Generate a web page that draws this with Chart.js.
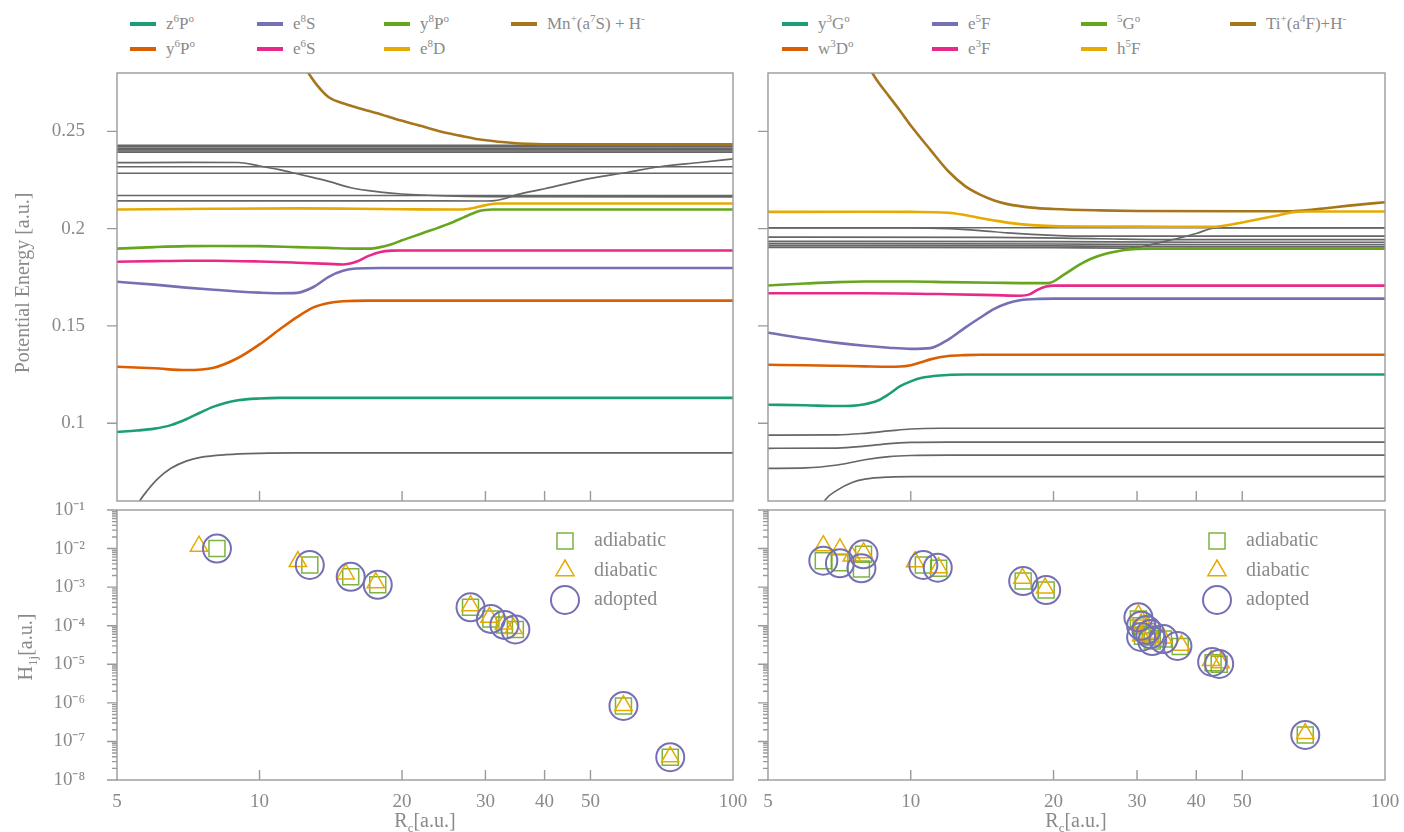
<!DOCTYPE html>
<html>
<head>
<meta charset="utf-8">
<script src="https://cdn.jsdelivr.net/npm/chart.js@4.4.1/dist/chart.umd.min.js"></script>
<style>
  body { margin: 0; background: #fff; width: 1404px; height: 832px; overflow: hidden; position: relative;
         font-family: "Liberation Serif", serif; color: #8a8a8a; }
  .box { position: absolute; }
  .leg { position: absolute; font-size: 17px; white-space: nowrap; line-height: 1; }
  .leg i { display: inline-block; width: 26px; height: 4px; vertical-align: middle; margin-right: 10px; position: relative; top: -1px; }
  .leg sup { font-size: 11px; }
  .title { position: absolute; font-size: 20px; white-space: nowrap; transform: translate(-50%, -50%); }
  .rot { transform: translate(-50%, -50%) rotate(-90deg); }
  .title sub { font-size: 13px; }
</style>
</head>
<body>
<div class="box" style="left:0;top:63px;width:752px;height:446px"><canvas id="mnPot"></canvas></div>
<div class="box" style="left:752px;top:63px;width:652px;height:446px"><canvas id="tiPot"></canvas></div>
<div class="box" style="left:0;top:500px;width:752px;height:332px"><canvas id="mnH"></canvas></div>
<div class="box" style="left:752px;top:500px;width:652px;height:332px"><canvas id="tiH"></canvas></div>
<div id="legends"></div>
<div class="title rot" style="left:22px;top:283px">Potential Energy [a.u.]</div>
<div class="title rot" style="left:27px;top:647px">H<sub>1j</sub>[a.u.]</div>
<div class="title" style="left:425px;top:822px">R<sub>c</sub>[a.u.]</div>
<div class="title" style="left:1076px;top:822px">R<sub>c</sub>[a.u.]</div>
<script>
// ---- colours
const TEAL = "#1b9e77", ORANGE = "#d95f02", PURPLE = "#7570b3", PINK = "#e7298a",
      GREEN = "#66a61e", YELLOW = "#e6ab02", BROWN = "#a6761d", GREY = "#666666";

// ---- Mn panel potential curves [R, E]
const mnZ6P = [[5,0.0955],[5.5,0.0962],[6,0.0972],[6.5,0.099],[7,0.102],[7.5,0.1055],[8,0.1085],[8.5,0.1105],[9,0.1118],[10,0.1127],[11,0.113],[100,0.113]];
const mnY6P = [[5,0.129],[6,0.1282],[7,0.1273],[8,0.1285],[9,0.1335],[10,0.1405],[11,0.148],[12,0.1545],[13,0.1595],[14,0.1618],[15,0.1627],[17,0.163],[100,0.163]];
const mnE8S = [[5,0.1727],[6,0.1712],[7,0.1697],[8,0.1686],[9,0.1677],[10,0.1671],[11,0.1668],[12,0.167],[13,0.17],[14,0.1752],[15,0.1783],[16,0.1795],[18,0.1798],[100,0.1798]];
const mnE6S = [[5,0.183],[6,0.1833],[7,0.1835],[8,0.1835],[10,0.1831],[12,0.1825],[14,0.1819],[15,0.1816],[16,0.183],[17,0.186],[18,0.188],[19,0.1887],[20,0.1888],[100,0.1888]];
const mnY8P = [[5,0.1897],[6,0.1905],[7,0.191],[8,0.1911],[10,0.191],[12,0.1905],[14,0.1901],[16,0.1897],[17,0.1897],[18,0.1905],[19,0.192],[20,0.194],[22,0.1975],[25,0.2023],[27,0.2058],[28,0.2075],[29,0.209],[30,0.2096],[31,0.2098],[100,0.2098]];
const mnE8D = [[5,0.2098],[8,0.2102],[12,0.2104],[16,0.2102],[20,0.21],[26,0.2098],[27.5,0.2101],[29,0.2112],[30.5,0.2124],[32,0.2129],[100,0.2129]];
const mnIon = [[12.6,0.281],[13.2,0.274],[14,0.2675],[15,0.2645],[16.3,0.2618],[18,0.2588],[19.8,0.2557],[22,0.2527],[24,0.25],[26.5,0.2478],[29,0.2459],[32,0.2447],[35.5,0.2438],[42,0.2434],[100,0.2433]];
const mnGreyLevels = [0.2428, 0.2421, 0.2413, 0.2406, 0.2399, 0.2392, 0.2318, 0.2285, 0.2170];
const mnGreyA = [[5,0.2339],[7,0.2341],[9,0.234],[10,0.2322],[11,0.2303],[12,0.2282],[13,0.2262],[14,0.2243],[15.6,0.221],[18,0.2188],[20,0.2178],[25,0.2168],[30,0.2165],[100,0.2163]];
const mnGreyE = [[5,0.2143],[20,0.2143],[29,0.2142],[31,0.2143],[33,0.2155],[35,0.2175],[40,0.2205],[50,0.2258],[60,0.229],[70,0.2318],[85,0.234],[100,0.2359]];
const mnGreyLow = [[5.45,0.055],[5.6,0.0605],[5.8,0.0655],[6.1,0.0715],[6.5,0.0768],[7,0.0805],[7.5,0.0824],[8.5,0.0838],[10,0.0845],[12,0.0847],[100,0.0847]];

// ---- Ti panel potential curves [R, E]
const tiY3G = [[5,0.1095],[6,0.1092],[7,0.1088],[7.5,0.1089],[8,0.1097],[8.5,0.1115],[9,0.115],[9.5,0.119],[10,0.1215],[10.5,0.1232],[11.5,0.1245],[13,0.125],[100,0.125]];
const tiW3D = [[5,0.13],[6,0.1298],[7,0.1295],[8,0.1292],[9,0.129],[9.5,0.1291],[10,0.1298],[10.5,0.1313],[11,0.1328],[12,0.1345],[13,0.135],[14,0.1352],[100,0.1352]];
const tiE5F = [[5,0.1465],[6,0.1435],[7,0.1413],[8,0.1398],[9,0.1388],[10,0.1382],[11,0.1386],[12,0.143],[13,0.149],[14,0.1542],[15,0.1588],[16,0.1617],[17,0.1632],[18.7,0.1639],[20,0.164],[100,0.164]];
const tiE3F = [[5,0.1668],[8,0.1668],[12,0.1663],[15,0.1658],[17,0.1655],[17.8,0.1662],[18.5,0.1685],[19.3,0.1702],[20,0.1707],[100,0.1707]];
const tiG5 = [[5,0.1708],[6,0.1718],[7,0.1725],[8,0.1728],[10,0.1728],[12,0.1725],[15,0.1722],[18,0.172],[19.5,0.172],[21,0.1762],[22.6,0.1812],[24,0.1845],[26,0.1873],[28,0.1889],[30,0.1896],[32,0.1897],[100,0.1897]];
const tiH5F = [[5,0.2086],[8,0.2087],[10,0.2086],[12,0.2082],[13,0.207],[14,0.2055],[15,0.2042],[16,0.2031],[18,0.2018],[20,0.2013],[25,0.2011],[35,0.201],[43,0.2009],[45,0.2012],[50,0.2032],[55,0.2052],[60,0.207],[64,0.2085],[68,0.2088],[100,0.2088]];
const tiIon = [[8.2,0.282],[8.5,0.276],[9,0.268],[9.5,0.2605],[10,0.253],[11,0.2405],[12,0.2295],[13,0.222],[14,0.2175],[15,0.2145],[16,0.2126],[18,0.2108],[20,0.2101],[25,0.2094],[30,0.2091],[50,0.2089],[63,0.2089],[68,0.2094],[75,0.2105],[83,0.2117],[100,0.2136]];
const tiGreyLevels = [0.2004];
const tiGreyR2 = [[5,0.2004],[10,0.2004],[12,0.2],[14,0.199],[16,0.1978],[18,0.197],[20,0.1965],[23,0.1961],[100,0.1961]];
const tiGreyR3 = [[5,0.1956],[15,0.1955],[25,0.1948],[35,0.1944],[100,0.1944]];
const tiGreyR4 = [[5,0.1935],[20,0.1933],[40,0.193],[100,0.193]];
const tiGreyR5 = [[5,0.1923],[20,0.1921],[40,0.1918],[100,0.1918]];
const tiGreyR6 = [[5,0.1913],[20,0.1911],[40,0.1906],[100,0.1906]];
const tiGreyR7 = [[5,0.1904],[20,0.1902],[28,0.19],[30.5,0.1905],[33,0.1925],[37,0.1953],[40,0.1975],[44,0.2004],[50,0.2004],[100,0.2004]];
const tiGreyG1 = [[5,0.0939],[7,0.094],[8,0.0948],[9,0.096],[10,0.097],[11.5,0.0974],[100,0.0974]];
const tiGreyG2 = [[5,0.0871],[7,0.0872],[8,0.0882],[9,0.0895],[10,0.0901],[12,0.0903],[100,0.0903]];
const tiGreyG3 = [[5,0.0768],[6,0.077],[7,0.0785],[8,0.0812],[9,0.0828],[10,0.0834],[12,0.0836],[100,0.0836]];
const tiGreyG4 = [[6.5,0.057],[6.6,0.0605],[7,0.0656],[7.5,0.0694],[8,0.0712],[9,0.0723],[10,0.0725],[100,0.0725]];

// ---- coupling points H1j vs Rc
const mnAdiabR = [8.13, 12.77, 15.58, 17.77, 27.9, 30.8, 32.9, 34.7, 58.7, 73.7];
const mnAdiabH = [1.0e-2, 3.75e-3, 1.85e-3, 1.15e-3, 3.0e-4, 1.5e-4, 1.05e-4, 8.0e-5, 8.3e-7, 3.9e-8];
const mnDiabR  = [7.45, 12.05, 15.2, 17.6, 27.9, 30.6, 32.8, 34.4, 58.7, 73.7];
const mnDiabH  = [1.15e-2, 4.6e-3, 2.2e-3, 1.3e-3, 3.3e-4, 1.65e-4, 1.1e-4, 8.5e-5, 8.5e-7, 4.0e-8];
const mnAdoptR = [8.13, 12.77, 15.58, 17.77, 27.9, 30.8, 32.9, 34.7, 58.7, 73.7];
const mnAdoptH = [1.0e-2, 3.75e-3, 1.85e-3, 1.15e-3, 3.0e-4, 1.5e-4, 1.05e-4, 8.0e-5, 8.3e-7, 3.9e-8];

const tiAdoptR = [6.54, 7.09, 7.95, 7.87, 10.63, 11.4, 17.26, 19.3, 30.2, 30.6, 31.4, 32.0, 30.6, 32.3, 34.1, 36.5, 43.2, 44.7, 67.9];
const tiAdoptH = [4.85e-3, 4.15e-3, 7.1e-3, 3.08e-3, 3.75e-3, 3.19e-3, 1.44e-3, 8.4e-4, 1.65e-4, 1.0e-4, 7.8e-5, 6.1e-5, 5.1e-5, 4.0e-5, 4.5e-5, 2.98e-5, 1.15e-5, 1.02e-5, 1.47e-7];
const tiAdiabR = [6.54, 7.09, 7.95, 7.87, 10.63, 11.45, 17.26, 19.3, 30.2, 30.6, 31.6, 32.0, 30.8, 32.3, 34.1, 37.0, 43.4, 44.7, 67.9];
const tiAdiabH = [4.85e-3, 4.3e-3, 7.1e-3, 2.95e-3, 3.75e-3, 3.08e-3, 1.44e-3, 8.4e-4, 1.5e-4, 1.0e-4, 7.0e-5, 6.1e-5, 5.3e-5, 4.0e-5, 4.5e-5, 2.9e-5, 1.1e-5, 1.0e-5, 1.47e-7];
const tiDiabR  = [6.54, 7.09, 7.51, 7.95, 10.21, 11.45, 17.2, 19.2, 30.2, 30.6, 31.4, 32.0, 30.6, 32.3, 34.1, 37.2, 43.0, 45.0, 67.9];
const tiDiabH  = [1.19e-2, 9.75e-3, 6.4e-3, 7.8e-3, 4.57e-3, 3.2e-3, 1.7e-3, 9.5e-4, 1.9e-4, 1.1e-4, 8.5e-5, 6.5e-5, 5.5e-5, 4.2e-5, 4.8e-5, 3.1e-5, 1.25e-5, 1.1e-5, 1.6e-7];

// ---- axis ticks
const xTickVals = [5, 10, 20, 30, 40, 50, 100];
const xInnerTicks = [10, 20, 30, 40, 50];
const eTickVals = [0.1, 0.15, 0.2, 0.25];
const hDecades = [1e-8, 1e-7, 1e-6, 1e-5, 1e-4, 1e-3, 1e-2, 1e-1];

// ---- legend labels
const mnNames = ["z<sup>6</sup>P<sup>o</sup>", "y<sup>6</sup>P<sup>o</sup>", "e<sup>8</sup>S", "e<sup>6</sup>S",
                 "y<sup>8</sup>P<sup>o</sup>", "e<sup>8</sup>D", "Mn<sup>+</sup>(a<sup>7</sup>S) + H<sup>-</sup>"];
const tiNames = ["y<sup>3</sup>G<sup>o</sup>", "w<sup>3</sup>D<sup>o</sup>", "e<sup>5</sup>F", "e<sup>3</sup>F",
                 "<sup>5</sup>G<sup>o</sup>", "h<sup>5</sup>F", "Ti<sup>+</sup>(a<sup>4</sup>F)+H<sup>-</sup>"];
const legendColors = [TEAL, ORANGE, PURPLE, PINK, GREEN, YELLOW, BROWN];

const FONT = "Liberation Serif";
const TXT = "#8a8a8a";
const SUP = {"-": "\u207B", "0": "\u2070", "1": "\u00B9", "2": "\u00B2", "3": "\u00B3", "4": "\u2074",
             "5": "\u2075", "6": "\u2076", "7": "\u2077", "8": "\u2078", "9": "\u2079"};

// top legends
(function () {
  const host = document.getElementById("legends");
  const place = (names, cols) => {
    names.forEach((n, i) => {
      const d = document.createElement("div");
      d.className = "leg";
      d.style.left = cols[Math.floor(i / 2)] + "px";
      d.style.top = (i % 2 === 0 ? 13 : 38) + "px";
      d.innerHTML = '<i style="background:' + legendColors[i] + '"></i>' + n;
      host.appendChild(d);
    });
  };
  place(mnNames, [130, 257, 384, 511]);
  place(tiNames, [782, 932, 1081, 1230]);
})();

const panelFrame = {
  id: "panelFrame",
  afterDatasetsDraw(chart, args, o) {
    const { ctx, chartArea: a } = chart;
    const xs = chart.scales.x, ys = chart.scales.y;
    ctx.save();
    ctx.strokeStyle = "#9a9a9a";
    ctx.lineWidth = 1.4;
    ctx.strokeRect(a.left, a.top, a.right - a.left, a.bottom - a.top);
    ctx.beginPath();
    (o.xTicks || []).forEach(v => {
      const x = xs.getPixelForValue(v);
      ctx.moveTo(x, a.bottom); ctx.lineTo(x, a.bottom - 10);
    });
    (o.yTicks || []).forEach(v => {
      const y = ys.getPixelForValue(v);
      ctx.moveTo(a.left - 10, y); ctx.lineTo(a.left, y);
    });
    (o.yMinor || []).forEach(v => {
      const y = ys.getPixelForValue(v);
      ctx.moveTo(a.left - 5, y); ctx.lineTo(a.left, y);
    });
    ctx.stroke();
    // marker legend inside the panel
    (o.legend || []).forEach((it, i) => {
      const cx = a.right - 168, cy = a.top + 31 + i * 29.5;
      ctx.strokeStyle = it.color;
      ctx.lineWidth = it.width;
      ctx.beginPath();
      if (it.shape === "rect") {
        ctx.rect(cx - 8, cy - 8, 16, 16);
      } else if (it.shape === "triangle") {
        ctx.moveTo(cx, cy - 10.5);
        ctx.lineTo(cx + 9.1, cy + 5.2);
        ctx.lineTo(cx - 9.1, cy + 5.2);
        ctx.closePath();
      } else {
        ctx.arc(cx, cy, 14, 0, Math.PI * 2);
      }
      ctx.stroke();
      ctx.fillStyle = TXT;
      ctx.font = "20px '" + FONT + "'";
      ctx.textBaseline = "middle";
      ctx.fillText(it.label, cx + 29, cy);
    });
    ctx.restore();
  }
};

function curve(pts, color, w) {
  return {
    data: pts.map(p => ({ x: p[0], y: p[1] })),
    borderColor: color,
    borderWidth: w,
    showLine: true,
    pointRadius: 0,
    cubicInterpolationMode: "monotone",
    fill: false
  };
}
function flat(v) { return curve([[5, v], [100, v]], GREY, 1.5); }

// fixed axis box, no extra label padding around the plot
const fitY = (show) => s => { if (show) s.width = 117; s.paddingTop = 0; s.paddingBottom = 0; };
const fitX = s => { s.height = 52; s.paddingLeft = 0; s.paddingRight = 0; };

function potChart(id, colored, greys, showY, pad) {
  const datasets = colored.map((pts, i) => curve(pts, legendColors[i], 2.6))
    .concat(greys.map(g => Array.isArray(g) ? curve(g, GREY, 1.7) : flat(g)));
  return new Chart(document.getElementById(id), {
    type: "scatter",
    data: { datasets },
    plugins: [panelFrame],
    options: {
      responsive: true,
      maintainAspectRatio: false,
      animation: false,
      events: [],
      layout: { padding: pad, autoPadding: false },
      plugins: {
        legend: { display: false },
        tooltip: { enabled: false },
        panelFrame: { xTicks: xInnerTicks, yTicks: eTickVals }
      },
      scales: {
        x: { type: "logarithmic", min: 5, max: 100, display: false },
        y: {
          type: "linear", min: 0.06, max: 0.28, display: showY,
          grid: { display: false }, border: { display: false },
          afterBuildTicks: s => { s.ticks = eTickVals.map(v => ({ value: v })); },
          afterFit: fitY(showY),
          ticks: { callback: v => String(v), padding: 24, color: TXT, font: { family: FONT, size: 19 } }
        }
      }
    }
  });
}

function pts(rs, hs) { return rs.map((r, i) => ({ x: r, y: hs[i] })); }

function hChart(id, adiab, diab, adopt, showY, pad) {
  const minor = [];
  for (let e = -8; e < -1; e++) for (let k = 2; k < 10; k++) minor.push(k * Math.pow(10, e));
  return new Chart(document.getElementById(id), {
    type: "scatter",
    data: {
      datasets: [
        { data: adopt, pointStyle: "circle", pointRadius: 14, borderColor: PURPLE, borderWidth: 2, backgroundColor: "rgba(0,0,0,0)" },
        { data: diab, pointStyle: "triangle", pointRadius: 10, borderColor: YELLOW, borderWidth: 1.5, backgroundColor: "rgba(0,0,0,0)" },
        { data: adiab, pointStyle: "rect", pointRadius: 11.3, borderColor: "rgba(102,166,30,0.85)", borderWidth: 1.5, backgroundColor: "rgba(0,0,0,0)" }
      ]
    },
    plugins: [panelFrame],
    options: {
      responsive: true,
      maintainAspectRatio: false,
      animation: false,
      events: [],
      layout: { padding: pad, autoPadding: false },
      plugins: {
        legend: { display: false },
        tooltip: { enabled: false },
        panelFrame: {
          xTicks: xInnerTicks, yTicks: hDecades, yMinor: minor,
          legend: [
            { label: "adiabatic", shape: "rect", color: "rgba(102,166,30,0.85)", width: 1.5 },
            { label: "diabatic", shape: "triangle", color: YELLOW, width: 1.5 },
            { label: "adopted", shape: "circle", color: PURPLE, width: 2 }
          ]
        }
      },
      scales: {
        x: {
          type: "logarithmic", min: 5, max: 100,
          grid: { display: false }, border: { display: false },
          afterBuildTicks: s => { s.ticks = xTickVals.map(v => ({ value: v })); },
          afterFit: fitX,
          ticks: { callback: v => String(v), autoSkip: false, maxRotation: 0, padding: 3, color: TXT, font: { family: FONT, size: 19 } }
        },
        y: {
          type: "logarithmic", min: 1e-8, max: 1e-1, display: showY,
          grid: { display: false }, border: { display: false },
          afterBuildTicks: s => { s.ticks = hDecades.map(v => ({ value: v })); },
          afterFit: fitY(showY),
          ticks: {
            callback: v => "10" + String(Math.round(Math.log10(v))).split("").map(c => SUP[c]).join(""),
            padding: 24, color: TXT, font: { family: FONT, size: 19 }
          }
        }
      }
    }
  });
}

potChart("mnPot",
  [mnZ6P, mnY6P, mnE8S, mnE6S, mnY8P, mnE8D, mnIon],
  mnGreyLevels.concat([mnGreyA, mnGreyE, mnGreyLow]),
  true, { top: 10, bottom: 8, right: 19, left: 0 });

potChart("tiPot",
  [tiY3G, tiW3D, tiE5F, tiE3F, tiG5, tiH5F, tiIon],
  tiGreyLevels.concat([tiGreyR2, tiGreyR3, tiGreyR4, tiGreyR5, tiGreyR6, tiGreyR7, tiGreyG1, tiGreyG2, tiGreyG3, tiGreyG4]),
  false, { top: 10, bottom: 8, right: 19, left: 16 });

hChart("mnH", pts(mnAdiabR, mnAdiabH), pts(mnDiabR, mnDiabH), pts(mnAdoptR, mnAdoptH),
  true, { top: 10, bottom: 0, right: 19, left: 0 });

hChart("tiH", pts(tiAdiabR, tiAdiabH), pts(tiDiabR, tiDiabH), pts(tiAdoptR, tiAdoptH),
  false, { top: 10, bottom: 0, right: 19, left: 16 });
</script>
</body>
</html>
